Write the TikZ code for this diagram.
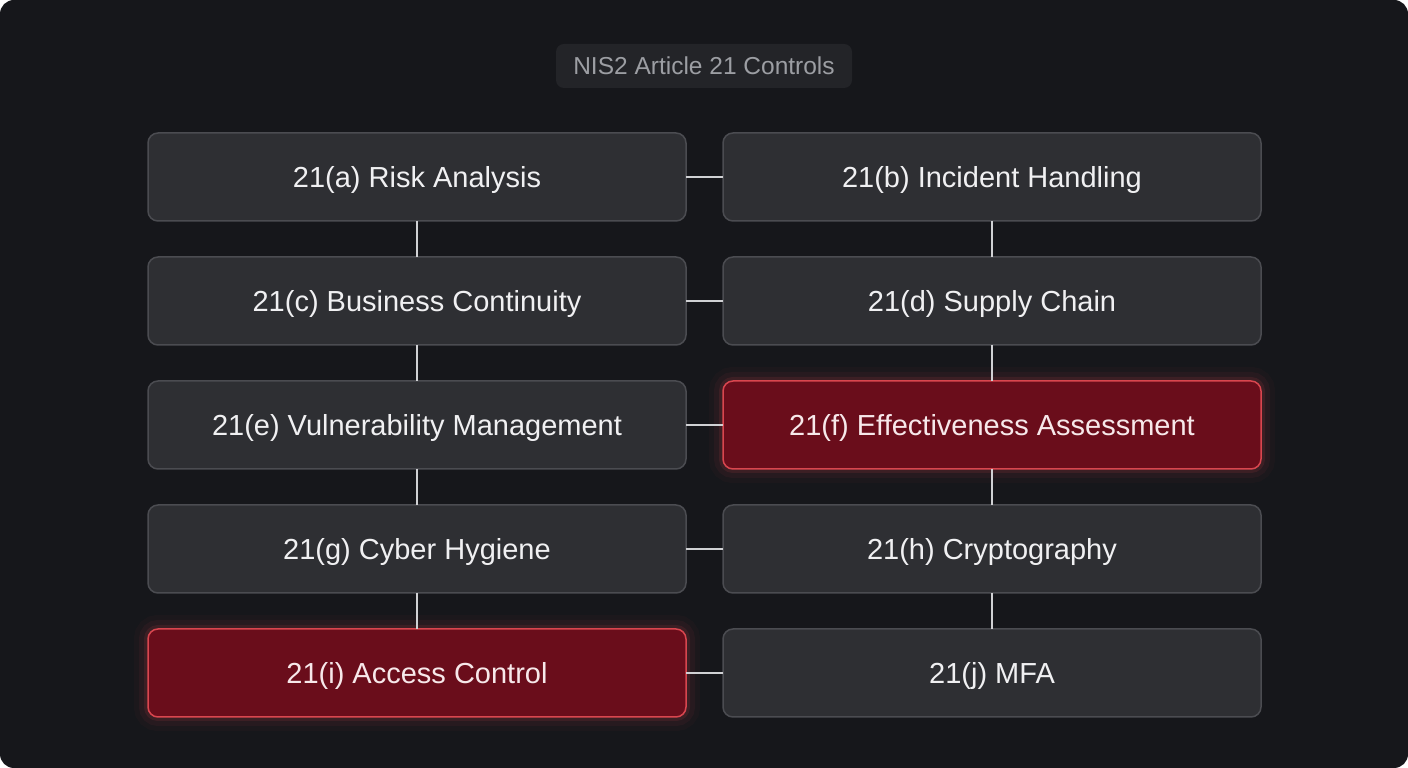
\documentclass[tikz,border=0pt]{standalone}
\usepackage{fontspec}
\setmainfont{Liberation Sans}
\usepackage{tikz}
\usetikzlibrary{positioning}

\definecolor{bgdark}{HTML}{16171B}
\definecolor{ctlfill}{HTML}{2E2F33}
\definecolor{ctlline}{HTML}{4B4C51}
\definecolor{ctltext}{HTML}{F0F0F2}
\definecolor{hotfill}{HTML}{6A0D1B}
\definecolor{hotline}{HTML}{D9464F}
\definecolor{hottext}{HTML}{F7E8EA}
\definecolor{linkgray}{HTML}{D0D1D4}
\definecolor{ttlfill}{HTML}{232428}
\definecolor{ttltext}{HTML}{9C9EA3}

\begin{document}
\begin{tikzpicture}[x=1pt,y=1pt,
            ctl/.style={rectangle, rounded corners=10pt, draw=ctlline, fill=ctlfill,
                line width=1.5pt, outer sep=0pt, minimum width=538pt, minimum height=88pt,
                text height=23.2pt, text depth=2.3pt,
                text=ctltext, font=\fontsize{29}{34}\selectfont},
            hot/.style={ctl, draw=hotline, fill=hotfill, text=hottext,
                preaction={draw=hotline, line width=28pt, draw opacity=0.035},
                preaction={draw=hotline, line width=18pt, draw opacity=0.06},
                preaction={draw=hotline, line width=8pt, draw opacity=0.12}},
            ttl/.style={rectangle, rounded corners=8pt, fill=ttlfill,
                minimum width=296pt, minimum height=44pt,
                text height=19.6pt, text depth=2pt,
                text=ttltext, font=\fontsize{24.5}{30}\selectfont},
            link/.style={draw=linkgray, line width=2pt},
            node distance=36pt and 37pt]

            \useasboundingbox (0,0) rectangle (1408,768);
            \fill[white] (0,0) rectangle (1408,768);
            \fill[bgdark, rounded corners=14pt] (0,0) rectangle (1408,768);

            \node [ttl] (title) at (704,702) {NIS2 Article 21 Controls};

            \node [ctl] (a) at (417,591) {21(a) Risk Analysis};
            \node [ctl,right=of a] (b) {21(b) Incident Handling};
            \node [ctl,below=of a] (c) {21(c) Business Continuity};
            \node [ctl,right=of c] (d) {21(d) Supply Chain};
            \node [ctl,below=of c] (e) {21(e) Vulnerability Management};
            \node [hot,right=of e] (f) {21(f) Effectiveness Assessment};
            \node [ctl,below=of e] (g) {21(g) Cyber Hygiene};
            \node [ctl,right=of g] (h) {21(h) Cryptography};
            \node [hot,below=of g] (i) {21(i) Access Control};
            \node [ctl,right=of i] (j) {21(j) MFA};

            \foreach \l/\r in {a/b,c/d,e/f,g/h,i/j}
                \draw [link] (\l) -- (\r);
            \foreach \u/\d in {a/c,c/e,e/g,g/i,b/d,d/f,f/h,h/j}
                \draw [link] (\u) -- (\d);

        \end{tikzpicture}
\end{document}
